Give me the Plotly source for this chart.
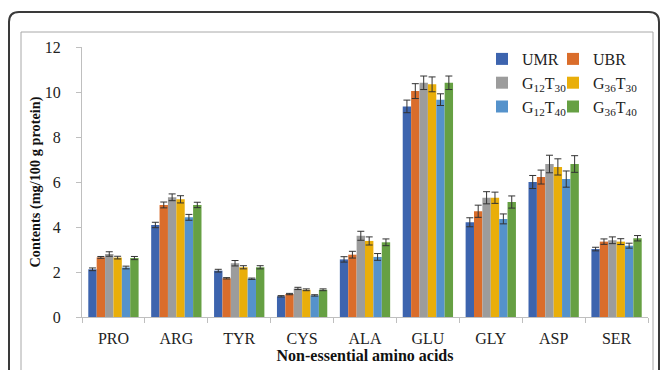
import plotly.graph_objects as go

categories = ["PRO", "ARG", "TYR", "CYS", "ALA", "GLU", "GLY", "ASP", "SER"]
series_names = ["UMR", "UBR", "G<sub>12</sub>T<sub>30</sub>", "G<sub>36</sub>T<sub>30</sub>",
                "G<sub>12</sub>T<sub>40</sub>", "G<sub>36</sub>T<sub>40</sub>"]

umr = [2.12, 4.09, 2.06, 0.92, 2.56, 9.36, 4.21, 6.00, 3.02]
ubr = [2.65, 4.98, 1.72, 1.02, 2.77, 10.04, 4.70, 6.22, 3.35]
g12t30 = [2.80, 5.32, 2.39, 1.27, 3.61, 10.41, 5.30, 6.80, 3.41]
g36t30 = [2.64, 5.23, 2.21, 1.21, 3.38, 10.34, 5.30, 6.67, 3.35]
g12t40 = [2.20, 4.43, 1.70, 0.96, 2.67, 9.66, 4.36, 6.13, 3.17]
g36t40 = [2.62, 4.98, 2.21, 1.21, 3.32, 10.41, 5.11, 6.80, 3.50]

err_umr = [0.06, 0.12, 0.06, 0.03, 0.12, 0.28, 0.20, 0.29, 0.08]
err_ubr = [0.04, 0.13, 0.03, 0.03, 0.15, 0.33, 0.27, 0.31, 0.12]
err_g12t30 = [0.10, 0.15, 0.12, 0.05, 0.20, 0.30, 0.27, 0.39, 0.15]
err_g36t30 = [0.06, 0.16, 0.07, 0.04, 0.18, 0.33, 0.25, 0.36, 0.13]
err_g12t40 = [0.06, 0.13, 0.03, 0.03, 0.15, 0.26, 0.22, 0.36, 0.11]
err_g36t40 = [0.07, 0.12, 0.07, 0.04, 0.15, 0.30, 0.27, 0.37, 0.12]

colors = ["#3D64AE", "#DA6D2B", "#9C9C9C", "#E9AE0A", "#5592CB", "#66A043"]

values = [umr, ubr, g12t30, g36t30, g12t40, g36t40]
errors = [err_umr, err_ubr, err_g12t30, err_g36t30, err_g12t40, err_g36t40]
legend_ids = ["legend", "legend2", "legend", "legend2", "legend", "legend2"]

FONT = "Liberation Serif, Times New Roman, serif"

fig = go.Figure()
for name, vals, errs, col, lg in zip(series_names, values, errors, colors, legend_ids):
    fig.add_trace(go.Bar(
        x=categories, y=vals, name=name,
        marker=dict(color=col, line=dict(width=0)),
        error_y=dict(type="data", array=errs, visible=True, color="#333333",
                     thickness=1, width=3.5),
        legend=lg,
    ))

# plot area in pixels: x 82..648, y 47..317
L, R, T, B = 82, 648, 47, 317
W, H = R - L, B - T
def px(x):
    return (x - L) / W
def py(y):
    return (B - y) / H

# outer rounded frame
x0, y0, x1, y1 = px(9), py(12), px(659), py(395)
rx, ry = 10 / W, 10 / H
outer = (f"M {x0},{y1} L {x0},{y0 - ry} Q {x0},{y0} {x0 + rx},{y0} "
         f"L {x1 - rx},{y0} Q {x1},{y0} {x1},{y0 - ry} L {x1},{y1}")

shapes = [
    dict(type="path", path=outer, xref="paper", yref="paper",
         line=dict(color="#3a3a3a", width=2), layer="below"),
    dict(type="rect", xref="paper", yref="paper", x0=px(21), y0=py(400),
         x1=px(653), y1=py(32), line=dict(color="#a8a8a8", width=1), layer="below"),
]

legend_font = dict(family=FONT, size=16, color="#222222")

fig.update_layout(
    width=660, height=370,
    margin=dict(l=L, r=660 - R, t=T, b=370 - B, autoexpand=False),
    paper_bgcolor="white", plot_bgcolor="white",
    barmode="group", bargap=0.2, bargroupgap=0,
    font=dict(family=FONT, size=15, color="#222222"),
    shapes=shapes,
    legend=dict(x=px(482), y=py(42), xanchor="left", yanchor="top",
                bgcolor="rgba(0,0,0,0)", font=legend_font,
                tracegroupgap=0, itemwidth=30),
    legend2=dict(x=px(553), y=py(42), xanchor="left", yanchor="top",
                 bgcolor="rgba(0,0,0,0)", font=legend_font,
                 tracegroupgap=0, itemwidth=30),
    xaxis=dict(
        showline=True, linecolor="#BFBFBF", linewidth=1,
        ticks="outside", tickson="boundaries", ticklen=5, tickcolor="#BFBFBF",
        tickfont=dict(family=FONT, size=16, color="#222222"),
        ticklabelstandoff=7,
        title=dict(text="<b>Non-essential amino acids</b>", standoff=2,
                   font=dict(family=FONT, size=16, color="#111111")),
        showgrid=False,
    ),
    yaxis=dict(
        range=[0, 12], dtick=2, tick0=0,
        showline=True, linecolor="#BFBFBF", linewidth=1,
        ticks="outside", ticklen=5, tickcolor="#BFBFBF",
        tickfont=dict(family=FONT, size=16, color="#222222"),
        ticklabelstandoff=12,
        title=dict(text="<b>Contents (mg/100 g protein)</b>", standoff=0,
                   font=dict(family=FONT, size=14.3, color="#111111")),
        showgrid=False, zeroline=False,
    ),
)

fig.write_html("out.html", config={"displayModeBar": False},
               post_script="document.body.style.margin='0';")
